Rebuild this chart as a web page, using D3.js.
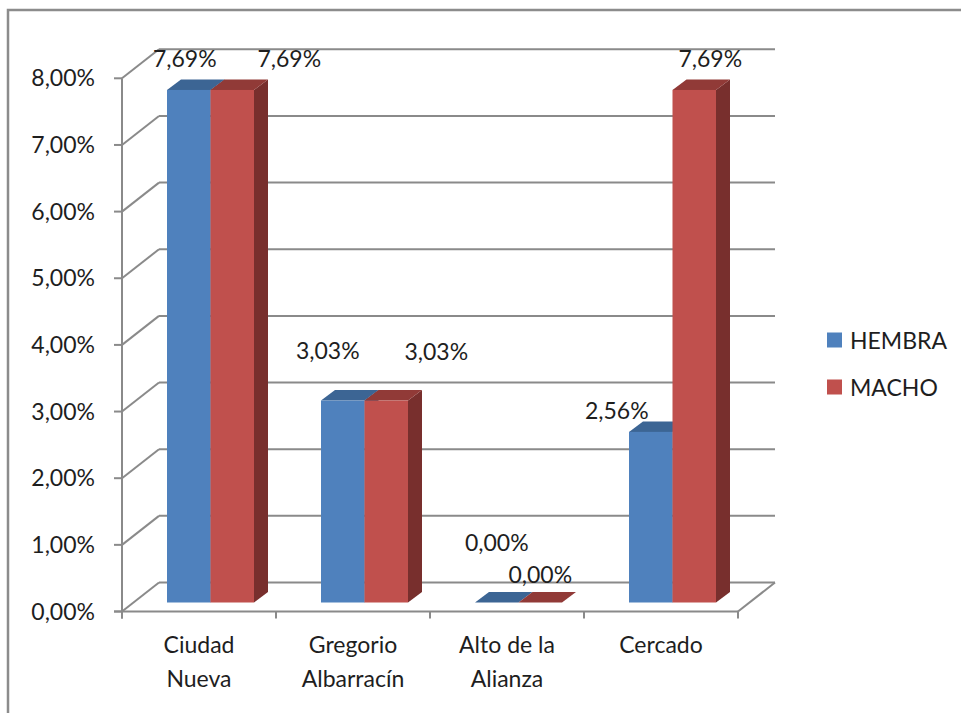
<!DOCTYPE html>
<html>
<head>
<meta charset="utf-8">
<script src="https://cdn.jsdelivr.net/npm/d3@7"></script>
<style>
  html, body { margin: 0; padding: 0; background: #ffffff; }
  svg { display: block; }
  text { font-family: Lato, "Open Sans", sans-serif; fill: #1e1e1e; }
</style>
</head>
<body>
<svg id="chart" width="961" height="713"></svg>
<script>
// Data
const categories = [["Ciudad", "Nueva"], ["Gregorio", "Albarracín"], ["Alto de la", "Alianza"], ["Cercado"]];
const series = ["HEMBRA", "MACHO"];
const hembra = [7.69, 3.03, 0.00, 2.56];
const macho = [7.69, 3.03, 0.00, 7.69];
const yTicks = [0, 1, 2, 3, 4, 5, 6, 7, 8];

// Label nudges from each bar's top front centre (series × category)
const labelNudge = [
  [[-4, -23], [-15, -42], [0, -52], [-34, -13]],
  [[57, -23], [50, -41], [0, -20], [16, -23]]
];

const colors = {
  HEMBRA: { front: "#4f81bd", top: "#3c6594", side: "#32557e" },
  MACHO:  { front: "#c0504d", top: "#913a37", side: "#782f2d" }
};

const svg = d3.select("#chart");
const fmt = v => d3.format(".2f")(v).replace(".", ",") + "%";

// Plot geometry
const left = 122, right = 738;
const DX = 37, DY = -29;          // floor depth
const BX = 11.5, BY = -9;         // bars front plane offset
const bdx = 14, bdy = -10.5;      // bar depth
const gridColor = "#8a8a8a";

const y = d3.scaleLinear().domain([0, 8]).range([611.5, 78.3]);
const x = d3.scaleBand().domain(d3.range(categories.length)).range([left, right]).paddingInner(0).paddingOuter(0);
const groupW = 87;
const xs = d3.scaleBand().domain(series).range([0, groupW]);

// Outer frame
svg.append("rect")
  .attr("x", 8).attr("y", 10).attr("width", 980).attr("height", 740)
  .attr("fill", "none").attr("stroke", "#8c8c8c").attr("stroke-width", 2.5);

const walls = svg.append("g").attr("stroke", gridColor).attr("stroke-width", 2).attr("fill", "none");

// Back wall gridlines and left wall diagonals
yTicks.forEach(v => {
  walls.append("line")
    .attr("x1", left + DX).attr("x2", right + DX)
    .attr("y1", y(v) + DY).attr("y2", y(v) + DY);
  walls.append("line")
    .attr("x1", left).attr("y1", y(v))
    .attr("x2", left + DX).attr("y2", y(v) + DY);
});

// Floor front edge and right edge
walls.append("line").attr("x1", left - 8).attr("x2", right).attr("y1", y(0)).attr("y2", y(0));
walls.append("line").attr("x1", right).attr("y1", y(0)).attr("x2", right + DX).attr("y2", y(0) + DY);

// Value axis
walls.append("line").attr("x1", left).attr("x2", left).attr("y1", y(8)).attr("y2", y(0) + 7);
yTicks.forEach(v => {
  walls.append("line").attr("x1", left - 8).attr("x2", left).attr("y1", y(v)).attr("y2", y(v));
});
// Category ticks
d3.range(categories.length + 1).forEach(i => {
  const tx = i < categories.length ? x(i) : right;
  walls.append("line").attr("x1", tx).attr("x2", tx).attr("y1", y(0)).attr("y2", y(0) + 7);
});

// Value axis labels
svg.append("g").selectAll("text").data(yTicks).join("text")
  .attr("x", 95).attr("y", v => y(v) + 8)
  .attr("text-anchor", "end").attr("font-size", 23)
  .text(v => fmt(v));

// Category labels
const catG = svg.append("g");
categories.forEach((lines, i) => {
  const t = catG.append("text")
    .attr("x", x(i) + x.bandwidth() / 2)
    .attr("y", 653)
    .attr("text-anchor", "middle").attr("font-size", 23);
  lines.forEach((ln, k) => {
    t.append("tspan").attr("x", x(i) + x.bandwidth() / 2).attr("dy", k === 0 ? 0 : 34).text(ln);
  });
});

// Bars
const values = { HEMBRA: hembra, MACHO: macho };
const barsG = svg.append("g");
const barW = xs.bandwidth();
categories.forEach((c, i) => {
  series.forEach(s => {
    const v = values[s][i];
    const x0 = x(i) + BX + (x.bandwidth() - groupW) / 2 + xs(s);
    const x1 = x0 + barW;
    const yb = y(0) + BY;
    const yt = y(v) + BY;
    const col = colors[s];
    // side
    barsG.append("path")
      .attr("d", `M${x1},${yt}L${x1 + bdx},${yt + bdy}L${x1 + bdx},${yb + bdy}L${x1},${yb}Z`)
      .attr("fill", col.side);
    // top
    barsG.append("path")
      .attr("d", `M${x0},${yt}L${x0 + bdx},${yt + bdy}L${x1 + bdx},${yt + bdy}L${x1},${yt}Z`)
      .attr("fill", col.top);
    // front
    barsG.append("rect")
      .attr("x", x0).attr("y", yt).attr("width", barW).attr("height", yb - yt)
      .attr("fill", col.front);
  });
});

// Data labels
const lblG = svg.append("g");
series.forEach((s, si) => {
  values[s].forEach((v, i) => {
    const cx = x(i) + BX + (x.bandwidth() - groupW) / 2 + xs(s) + barW / 2;
    const ty = y(v) + BY;
    const [nx, ny] = labelNudge[si][i];
    lblG.append("text")
      .attr("x", cx + nx).attr("y", ty + ny)
      .attr("text-anchor", "middle").attr("font-size", 23)
      .text(fmt(v));
  });
});

// Legend
const legend = svg.append("g");
series.forEach((s, k) => {
  const cy = 340 + k * 47;
  legend.append("rect")
    .attr("x", 827).attr("y", cy - 7.5).attr("width", 15).attr("height", 15)
    .attr("fill", colors[s].front);
  legend.append("text")
    .attr("x", 850).attr("y", cy + 8.5)
    .attr("font-size", 23)
    .text(s);
});
</script>
</body>
</html>
